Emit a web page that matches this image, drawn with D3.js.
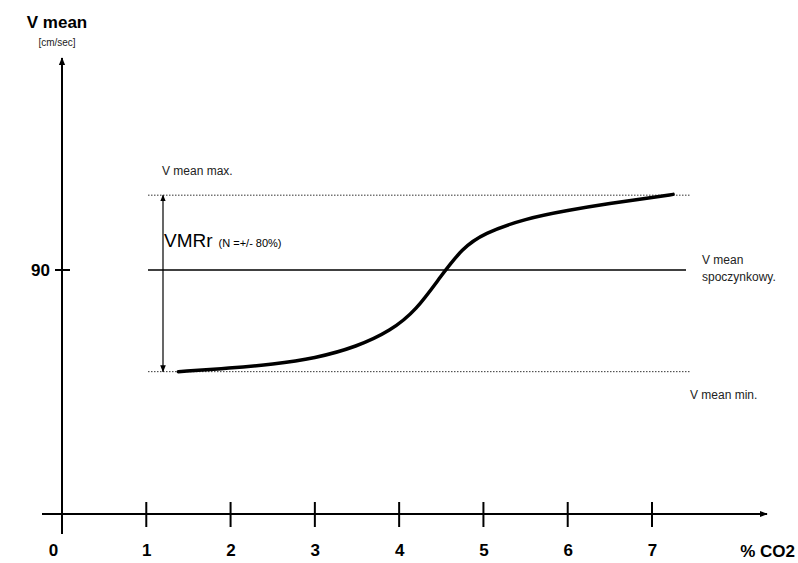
<!DOCTYPE html>
<html>
<head>
<meta charset="utf-8">
<script src="https://d3js.org/d3.v7.min.js"></script>
<style>
body { margin: 0; background: #fff; }
text { font-family: "Liberation Sans", Arial, sans-serif; }
</style>
</head>
<body>
<div id="chart-area"></div>
<script>
// data
var xTicks = [0, 1, 2, 3, 4, 5, 6, 7];
var yTicks = [90];
var co2 = [1.38, 2.0, 2.5, 3.0, 3.5, 3.9, 4.2, 4.5, 4.75, 5.0, 5.5, 6.0, 6.5, 7.0, 7.25];
var vmean = [52.5, 53.8, 55.2, 57.4, 61.7, 67.6, 75.0, 88.0, 98.0, 103.5, 109.0, 112.0, 114.6, 116.7, 117.9];
var vRest = 90;
var vMax = 117.6;
var vMin = 52.5;

var width = 798;
var height = 563;

var svg = d3.select("#chart-area").append("svg")
    .attr("width", width)
    .attr("height", height);

var x = d3.scaleLinear()
    .domain([0, 7])
    .range([62, 652]);

var y = d3.scaleLinear()
    .domain([0, 90])
    .range([514, 270]);

// arrow heads
var defs = svg.append("defs");
defs.append("marker")
    .attr("id", "arr")
    .attr("viewBox", "0 0 10 10")
    .attr("refX", 9).attr("refY", 5)
    .attr("markerWidth", 8).attr("markerHeight", 8)
    .attr("markerUnits", "userSpaceOnUse")
    .attr("orient", "auto-start-reverse")
    .append("path")
    .attr("d", "M0,1 L10,5 L0,9 Z")
    .attr("fill", "#000");
defs.append("marker")
    .attr("id", "arrs")
    .attr("viewBox", "0 0 10 10")
    .attr("refX", 9).attr("refY", 5)
    .attr("markerWidth", 7).attr("markerHeight", 8)
    .attr("markerUnits", "userSpaceOnUse")
    .attr("orient", "auto-start-reverse")
    .append("path")
    .attr("d", "M0,1 L10,5 L0,9 Z")
    .attr("fill", "#000");

// X axis
var bottomAxis = d3.axisBottom(x)
    .tickValues(xTicks)
    .tickSize(0)
    .tickFormat(d3.format("d"));
var gx = svg.append("g")
    .attr("class", "bottom axis")
    .attr("transform", "translate(0," + y(0) + ")")
    .call(bottomAxis);
gx.select(".domain").remove();
gx.selectAll(".tick line").remove();
gx.selectAll(".tick text")
    .attr("y", 30)
    .attr("dy", "0.71em")
    .attr("dx", function(d) { return d === 0 ? -9 : 0; })
    .attr("font-size", "17px")
    .attr("font-weight", "bold")
    .attr("fill", "#000");

svg.append("line")
    .attr("x1", 42).attr("x2", 767)
    .attr("y1", y(0)).attr("y2", y(0))
    .attr("stroke", "#000").attr("stroke-width", 2)
    .attr("marker-end", "url(#arr)");

svg.selectAll(".xtick")
    .data(xTicks.filter(function(d) { return d > 0; }))
    .enter().append("line")
    .attr("class", "xtick")
    .attr("x1", function(d) { return x(d); })
    .attr("x2", function(d) { return x(d); })
    .attr("y1", y(0) - 12).attr("y2", y(0) + 13)
    .attr("stroke", "#000").attr("stroke-width", 2);

// Y axis
svg.append("line")
    .attr("x1", x(0)).attr("x2", x(0))
    .attr("y1", 534).attr("y2", 58)
    .attr("stroke", "#000").attr("stroke-width", 2)
    .attr("marker-end", "url(#arr)");

var leftAxis = d3.axisLeft(y)
    .tickValues(yTicks)
    .tickSize(0);
var gy = svg.append("g")
    .attr("class", "left axis")
    .attr("transform", "translate(" + x(0) + ",0)")
    .call(leftAxis);
gy.select(".domain").remove();
gy.selectAll(".tick text")
    .attr("x", -12)
    .attr("font-size", "17px")
    .attr("font-weight", "bold")
    .attr("fill", "#000");

svg.selectAll(".ytick")
    .data(yTicks)
    .enter().append("line")
    .attr("class", "ytick")
    .attr("x1", x(0) - 7).attr("x2", x(0) + 8)
    .attr("y1", function(d) { return y(d); })
    .attr("y2", function(d) { return y(d); })
    .attr("stroke", "#000").attr("stroke-width", 2);

// Y label
svg.append("text")
    .attr("x", 57).attr("y", 28)
    .attr("text-anchor", "middle")
    .attr("font-size", "17px")
    .attr("font-weight", "bold")
    .text("V mean");
svg.append("text")
    .attr("x", 57).attr("y", 46)
    .attr("text-anchor", "middle")
    .attr("font-size", "10px")
    .attr("fill", "#222")
    .text("[cm/sec]");

// X label
svg.append("text")
    .attr("x", 795).attr("y", 557)
    .attr("text-anchor", "end")
    .attr("font-size", "17px")
    .attr("font-weight", "bold")
    .text("% CO2");

// reference lines
svg.append("line")
    .attr("x1", 148).attr("x2", 690)
    .attr("y1", y(vMax)).attr("y2", y(vMax))
    .attr("stroke", "#333").attr("stroke-width", 1)
    .attr("stroke-dasharray", "1.5,1.5");
svg.append("line")
    .attr("x1", 148).attr("x2", 690)
    .attr("y1", y(vMin)).attr("y2", y(vMin))
    .attr("stroke", "#333").attr("stroke-width", 1)
    .attr("stroke-dasharray", "1.5,1.5");
svg.append("line")
    .attr("x1", 148).attr("x2", 686)
    .attr("y1", y(vRest)).attr("y2", y(vRest))
    .attr("stroke", "#000").attr("stroke-width", 1.3);

// double arrow
svg.append("line")
    .attr("x1", 163).attr("x2", 163)
    .attr("y1", y(vMin)).attr("y2", y(vMax))
    .attr("stroke", "#000").attr("stroke-width", 1.2)
    .attr("marker-start", "url(#arrs)")
    .attr("marker-end", "url(#arrs)");

// curve
var line = d3.line()
    .x(function(d, i) { return x(co2[i]); })
    .y(function(d) { return y(d); })
    .curve(d3.curveBasis);
svg.append("path")
    .datum(vmean)
    .attr("d", line)
    .attr("fill", "none")
    .attr("stroke", "#000")
    .attr("stroke-width", 3.5)
    .attr("stroke-linecap", "round");

// annotations
svg.append("text")
    .attr("x", 162).attr("y", 175)
    .attr("font-size", "12px").attr("fill", "#222")
    .text("V mean max.");
var vm = svg.append("text")
    .attr("x", 164).attr("y", 247)
    .attr("font-size", "19px").attr("fill", "#000");
vm.append("tspan").text("VMRr");
vm.append("tspan").attr("font-size", "11px").attr("dx", 6).text("(N =+/- 80%)");
svg.append("text")
    .attr("x", 702).attr("y", 264)
    .attr("font-size", "12px").attr("fill", "#222")
    .text("V mean");
svg.append("text")
    .attr("x", 702).attr("y", 281)
    .attr("font-size", "12px").attr("fill", "#222")
    .text("spoczynkowy.");
svg.append("text")
    .attr("x", 690).attr("y", 399)
    .attr("font-size", "12px").attr("fill", "#222")
    .text("V mean min.");
</script>
</body>
</html>
